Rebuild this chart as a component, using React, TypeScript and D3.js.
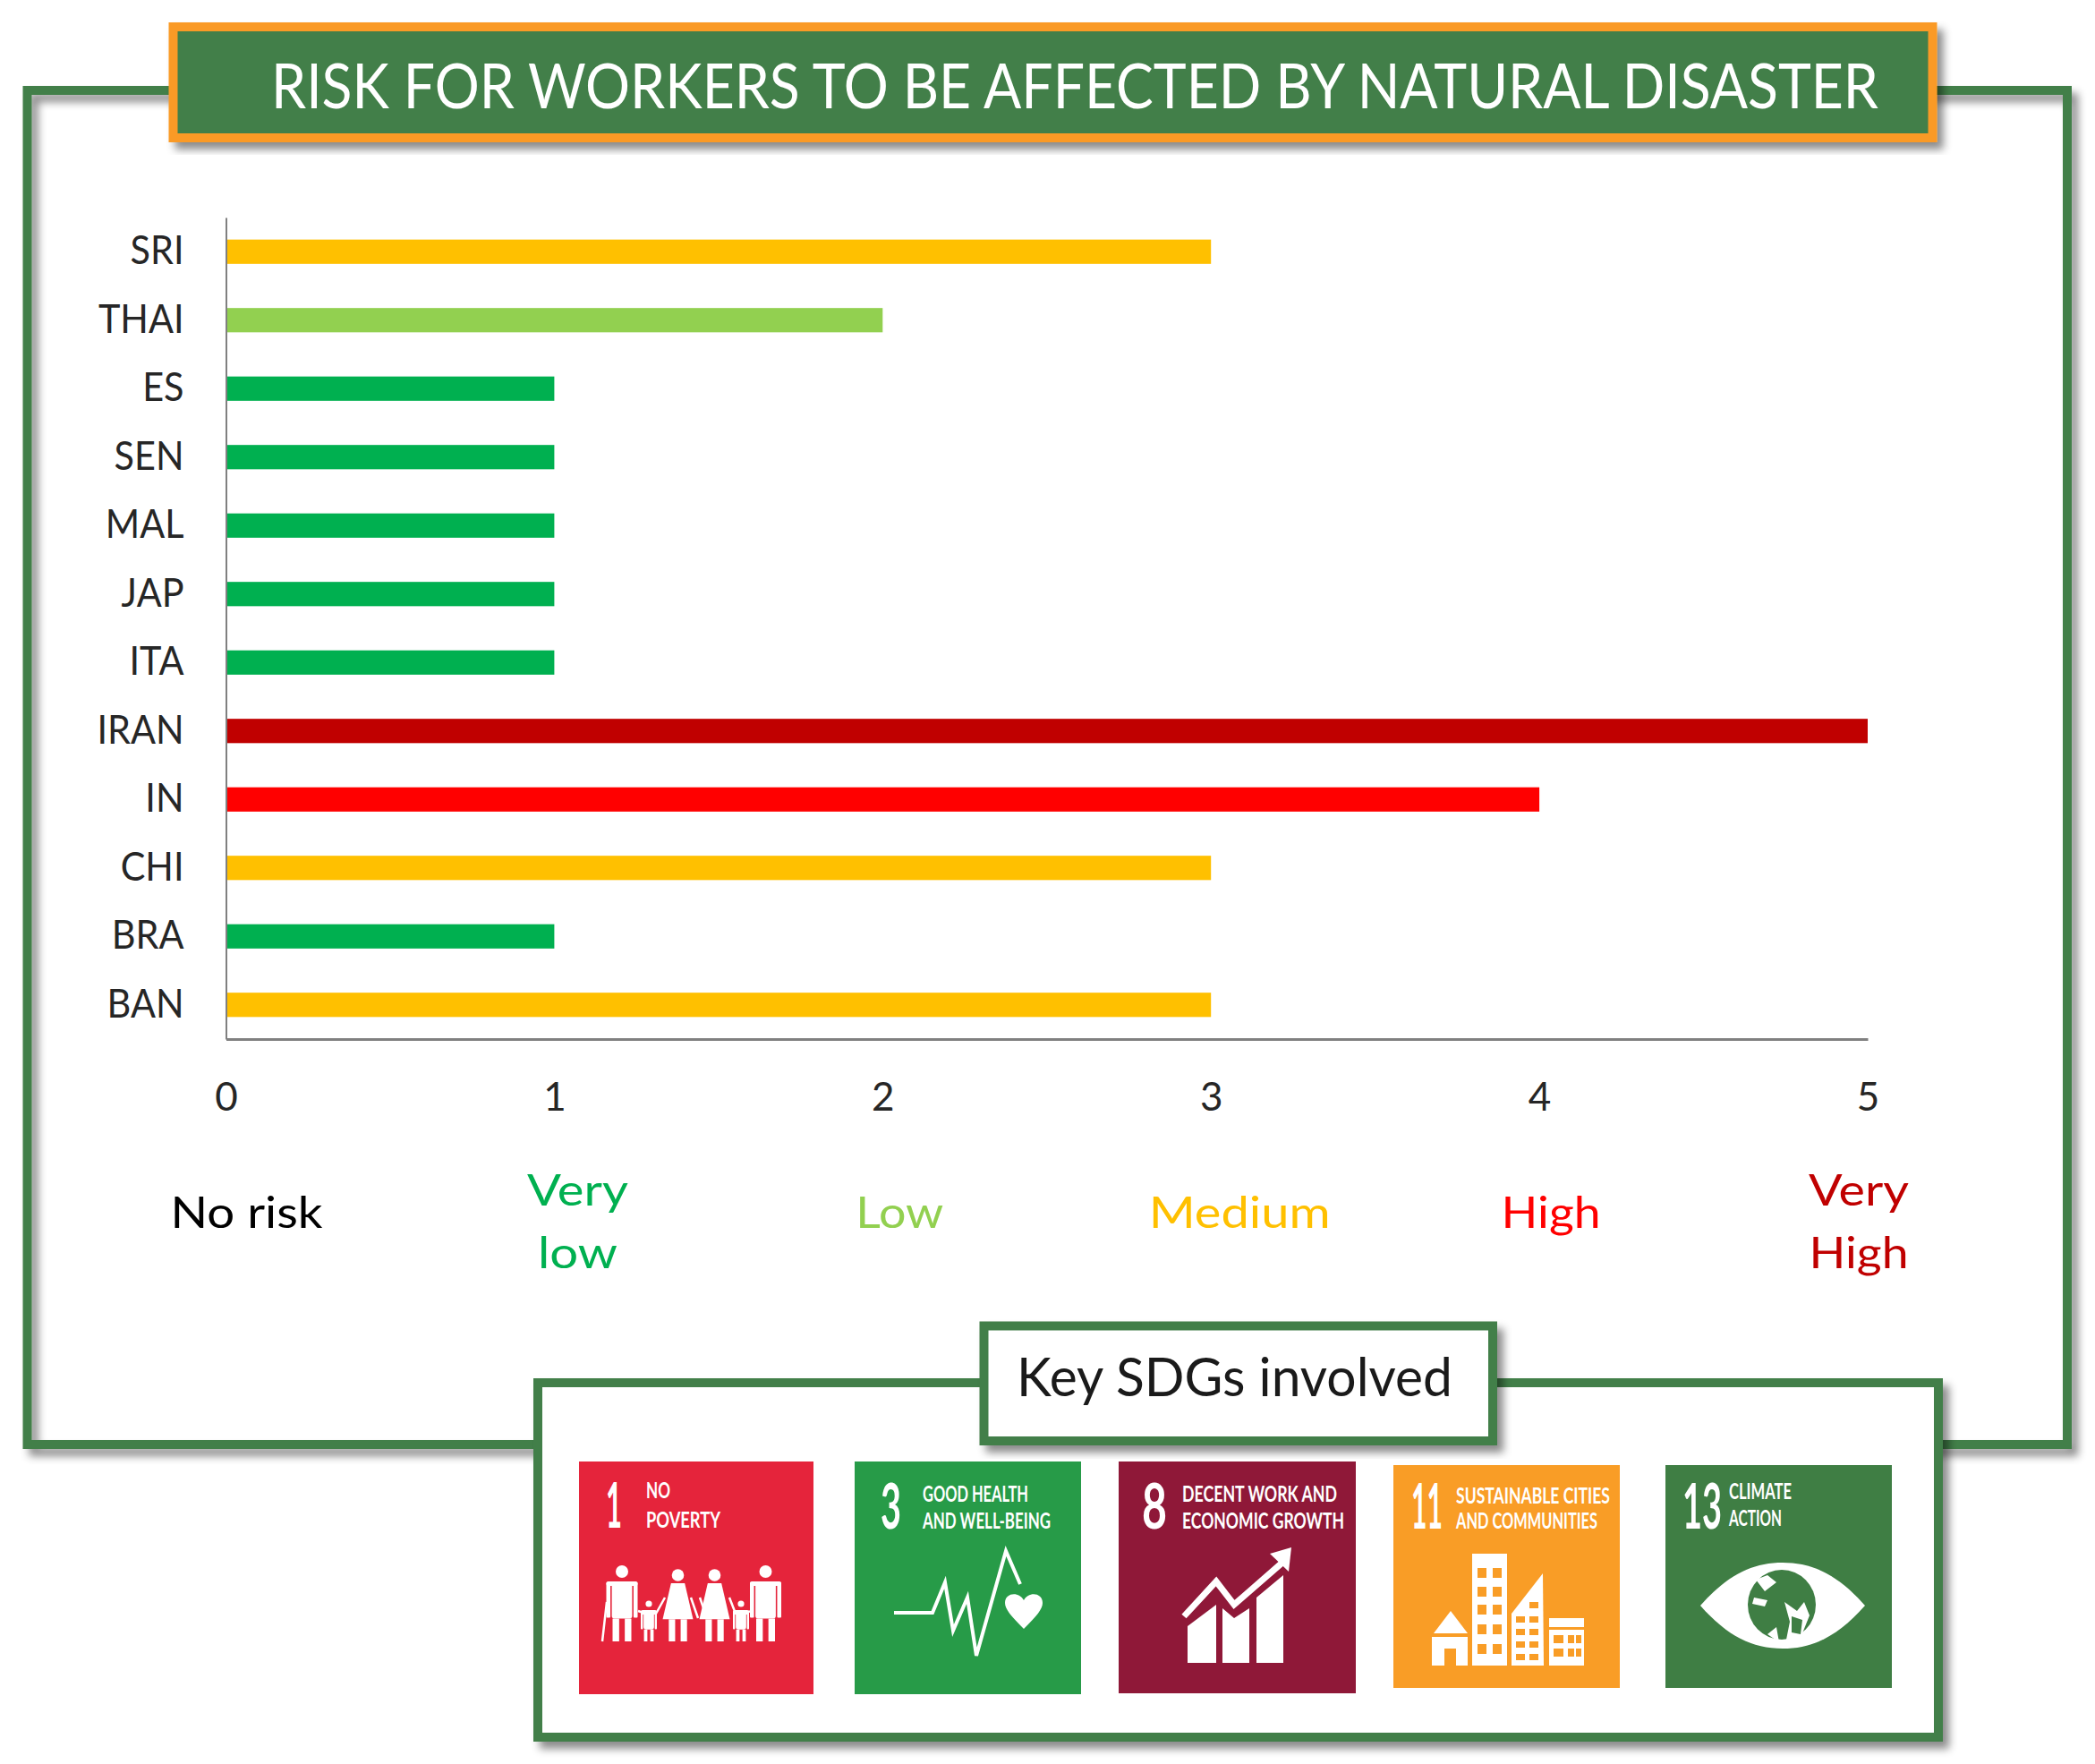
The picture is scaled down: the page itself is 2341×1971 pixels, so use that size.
import React, { useEffect, useRef } from 'react';
import * as d3 from 'd3';

const categories = ['SRI', 'THAI', 'ES', 'SEN', 'MAL', 'JAP', 'ITA', 'IRAN', 'IN', 'CHI', 'BRA', 'BAN'];
const riskValues = [3, 2, 1, 1, 1, 1, 1, 5, 4, 3, 1, 3];
const riskTicks = [0, 1, 2, 3, 4, 5];
const riskColors = ['#000000', '#00b050', '#92d050', '#ffc000', '#ff0000', '#c00000'];
const riskLines = [['No risk'], ['Very', 'low'], ['Low'], ['Medium'], ['High'], ['Very', 'High']];
const title = 'RISK FOR WORKERS TO BE AFFECTED BY NATURAL DISASTER';
const sdgTitle = 'Key SDGs involved';
const sdgNumbers = ['1', '3', '8', '11', '13'];
const sdgNames = [
  ['NO', 'POVERTY'],
  ['GOOD HEALTH', 'AND WELL-BEING'],
  ['DECENT WORK AND', 'ECONOMIC GROWTH'],
  ['SUSTAINABLE CITIES', 'AND COMMUNITIES'],
  ['CLIMATE', 'ACTION'],
];
const sdgColors = ['#e5243b', '#279b48', '#8f1838', '#f99d26', '#3f7e44'];

// layout
const WIDTH = 2341;
const HEIGHT = 1971;
const GREEN = '#427f48';
const FONT = 'Lato, sans-serif';
const x = d3.scaleLinear().domain([0, 5]).range([252.5, 2087]);
const y = d3.scaleBand().domain(categories).range([243, 1161]).paddingInner(0.645).paddingOuter(0.3225);

const labelOffset = [23, 26, 19, 32, 13, -10];
const labelWidths = [[170], [113, 89], [98], [203], [111], [112, 111]];

const tiles = [
  { x0: 647, x1: 909, y0: 1633, y1: 1893, numX: 677, numW: 18, nameX: 722, nameW: [27, 83], base: [1674, 1707], numBase: 1707 },
  { x0: 955, x1: 1208, y0: 1633, y1: 1893, numX: 984, numW: 23, nameX: 1031, nameW: [118, 143], base: [1678, 1708], numBase: 1708 },
  { x0: 1250, x1: 1515, y0: 1633, y1: 1892, numX: 1276, numW: 28, nameX: 1321, nameW: [173, 181], base: [1678, 1708], numBase: 1708 },
  { x0: 1557, x1: 1810, y0: 1637, y1: 1886, numX: 1577, numW: 35, nameX: 1627, nameW: [172, 158], base: [1680, 1708], numBase: 1708 },
  { x0: 1861, x1: 2114, y0: 1637, y1: 1886, numX: 1880, numW: 44, nameX: 1932, nameW: [70, 59], base: [1675, 1705], numBase: 1708 },
];

function Fit({ tx, ty, w, size, fill, anchor = 'start', weight = 400, children }: any) {
  return (
    <text x={tx} y={ty} textLength={w} lengthAdjust="spacingAndGlyphs" fontSize={size} fill={fill}
      textAnchor={anchor} fontWeight={weight} fontFamily={FONT}>{children}</text>
  );
}

function Person({ cx, headY, top, bottom, half, dress }: any) {
  const w = '#fff';
  const waist = top + (bottom - top) * 0.62;
  const legW = half * 0.42;
  return (
    <g fill={w}>
      <circle cx={cx} cy={headY} r={half * 0.4} />
      {dress
        ? <path d={`M${cx - half * 0.45},${top} L${cx + half * 0.45},${top} L${cx + half},${waist} L${cx - half},${waist} Z`} />
        : <rect x={cx - half * 0.65} y={top} width={half * 1.3} height={waist - top} rx={3} />}
      <rect x={cx - half * 0.6} y={waist} width={legW} height={bottom - waist} />
      <rect x={cx + half * 0.6 - legW} y={waist} width={legW} height={bottom - waist} />
      {!dress && <rect x={cx - half} y={top + 1} width={half * 0.26} height={(waist - top) * 0.95} rx={1} />}
      {!dress && <rect x={cx + half * 0.74} y={top + 1} width={half * 0.26} height={(waist - top) * 0.95} rx={1} />}
      {!dress && <rect x={cx - half} y={top} width={half * 2} height={5} rx={2} />}
    </g>
  );
}

function Family() {
  return (
    <g>
      <Person cx={695} headY={1756} top={1767} bottom={1834} half={17.5} />
      <Person cx={725} headY={1792} top={1799} bottom={1834} half={9} />
      <Person cx={757.5} headY={1760} top={1769} bottom={1834} half={17} dress />
      <Person cx={798.5} headY={1760} top={1769} bottom={1834} half={17} dress />
      <Person cx={828} headY={1792} top={1799} bottom={1834} half={9} />
      <Person cx={855.5} headY={1756} top={1767} bottom={1834} half={17.5} />
      <path d="M713,1800 L722,1803 M733,1803 L743,1785 M772,1785 L780,1808 M790,1808 L782,1785 M815,1785 L822,1803 M834,1803 L838,1800 M678,1790 L673,1834"
        stroke="#fff" strokeWidth={2.5} fill="none" />
    </g>
  );
}

function Pulse() {
  const line = d3.line()([[999, 1802], [1042, 1802], [1056, 1768], [1065, 1822], [1081, 1785], [1091, 1850], [1124, 1733], [1140, 1770]]);
  return (
    <g>
      <path d={line as string} fill="none" stroke="#fff" strokeWidth={4} />
      <path d="M1144,1820 C1130,1806 1123,1798 1123,1791 C1123,1779 1139,1778 1144,1788 C1149,1778 1165,1779 1165,1791 C1165,1798 1158,1806 1144,1820 Z" fill="#fff" />
    </g>
  );
}

function Growth() {
  const arrow = d3.line()([[1323, 1806], [1359, 1767], [1379, 1793], [1434, 1745]]);
  return (
    <g fill="#fff">
      <path d="M1327,1817 L1359,1793 L1359,1858 L1327,1858 Z" />
      <path d="M1366,1797 L1379,1808 L1396,1797 L1396,1858 L1366,1858 Z" />
      <path d="M1404,1785 L1434,1760 L1434,1858 L1404,1858 Z" />
      <path d={arrow as string} fill="none" stroke="#fff" strokeWidth={7} />
      <path d="M1443,1729 L1419,1736 L1440,1756 Z" />
    </g>
  );
}

function City() {
  const orange = sdgColors[3];
  const towerRows = [1752, 1773, 1793, 1815, 1837];
  const slantRows = [1790, 1806, 1820, 1834, 1848];
  return (
    <g fill="#fff">
      <path d="M1621,1800 L1602,1825 L1640,1825 Z" />
      <rect x={1600} y={1829} width={40} height={32} />
      <rect x={1614} y={1842} width={13} height={19} fill={orange} />
      <rect x={1645} y={1736} width={39} height={125} />
      {towerRows.map(r => (
        <g key={r} fill={orange}>
          <rect x={1651} y={r} width={10} height={11} />
          <rect x={1668} y={r} width={10} height={11} />
        </g>
      ))}
      <path d="M1689,1803 L1724,1758 L1725,1861 L1689,1861 Z" />
      {slantRows.map(r => (
        <g key={r} fill={orange}>
          {r > 1800 && <rect x={1694} y={r} width={10} height={7} />}
          <rect x={1709} y={r} width={10} height={7} />
        </g>
      ))}
      <rect x={1731} y={1808} width={39} height={53} />
      <rect x={1731} y={1818} width={39} height={3} fill={orange} />
      {[1827, 1842].map(r => (
        <g key={r} fill={orange}>
          <rect x={1736} y={r} width={11} height={9} />
          <rect x={1752} y={r} width={7} height={9} />
          <rect x={1761} y={r} width={6} height={9} />
        </g>
      ))}
    </g>
  );
}

function Eye() {
  const g = sdgColors[4];
  return (
    <g>
      <path d="M1900,1794 C1930,1760 1958,1746 1992,1746 C2026,1746 2054,1760 2084,1794 C2054,1828 2026,1842 1992,1842 C1958,1842 1930,1828 1900,1794 Z" fill="#fff" />
      <ellipse cx={1991} cy={1793} rx={38} ry={39} fill={g} />
      <path d="M1962,1765 L1975,1760 L1985,1768 L1972,1778 Z M1960,1785 L1975,1788 L1972,1795 L1958,1792 Z M1994,1790 L2008,1800 L2016,1790 L2022,1805 L2012,1830 L1996,1832 L2000,1812 Z M1975,1826 L1985,1818 L1988,1835 Z"
        fill="#fff" />
      <path d="M2002,1806 L2014,1810 L2012,1826 L2002,1824 Z" fill={g} />
    </g>
  );
}

const icons = [Family, Pulse, Growth, City, Eye];

export default function App() {
  const yAxisRef = useRef<SVGGElement>(null);
  const xAxisRef = useRef<SVGGElement>(null);

  useEffect(() => {
    // d3 axes, category labels narrowed a little to the look of the picture
    const squeeze = function (this: any) {
      const len = this.getComputedTextLength();
      d3.select(this).attr('textLength', len * 0.94).attr('lengthAdjust', 'spacingAndGlyphs');
    };

    const yAxis = d3.select(yAxisRef.current as SVGGElement)
      .call(d3.axisLeft(y).tickSize(0).tickPadding(47));
    yAxis.select('.domain').attr('stroke', '#808080').attr('stroke-width', 2);
    yAxis.selectAll('text')
      .attr('font-family', FONT).attr('font-size', 44).attr('fill', '#262626').each(squeeze);

    const xAxis = d3.select(xAxisRef.current as SVGGElement)
      .call(d3.axisBottom(x).tickValues(riskTicks).tickSize(0).tickPadding(49).tickFormat(d3.format('d')));
    xAxis.select('.domain').attr('stroke', '#808080').attr('stroke-width', 3);
    xAxis.selectAll('text')
      .attr('font-family', FONT).attr('font-size', 44).attr('fill', '#262626');
  }, []);

  return (
    <svg width={WIDTH} height={HEIGHT} viewBox={`0 0 ${WIDTH} ${HEIGHT}`}
      style={{ position: 'absolute', left: 0, top: 0, display: 'block', background: '#fff' }}>
      <defs>
        <filter id="shadow" x="-5%" y="-10%" width="110%" height="125%">
          <feDropShadow dx={7} dy={8} stdDeviation={5} floodColor="#000" floodOpacity={0.45} />
        </filter>
      </defs>

      {/* outer frame */}
      <rect x={30.5} y={101} width={2279.5} height={1513} fill="none" stroke={GREEN} strokeWidth={10} filter="url(#shadow)" />

      {/* title */}
      <rect x={193.5} y={30} width={1966} height={124} fill={GREEN} stroke="#fa9a26" strokeWidth={10} filter="url(#shadow)" />
      <Fit tx={303} ty={121} w={1796} size={70} fill="#fff">{title}</Fit>

      {/* bars */}
      {categories.map((c, i) => (
        <rect key={c} x={x(0)} y={y(c)} width={x(riskValues[i]) - x(0)} height={y.bandwidth()} fill={riskColors[riskValues[i]]} />
      ))}
      <g ref={yAxisRef} transform={`translate(${x(0)},0)`} />
      <g ref={xAxisRef} transform={`translate(0,${y.range()[1]})`} />

      {/* risk scale names under the ticks */}
      {riskLines.map((lines, i) => lines.map((l, j) => (
        <Fit key={l + i} tx={x(riskTicks[i]) + labelOffset[i]} w={labelWidths[i][j]} size={48} anchor="middle" fill={riskColors[i]}
          ty={lines.length === 1 ? 1372 : 1347 + j * 70}>{l}</Fit>
      )))}

      {/* SDG panel */}
      <rect x={601} y={1545} width={1565} height={396} fill="#fff" stroke={GREEN} strokeWidth={10} filter="url(#shadow)" />
      <rect x={1099.5} y={1481.5} width={568.5} height={128.5} fill="#fff" stroke={GREEN} strokeWidth={10} filter="url(#shadow)" />
      <Fit tx={1136} ty={1560} w={487} size={60} fill="#1a1a1a">{sdgTitle}</Fit>

      {tiles.map((t, i) => {
        const Icon = icons[i];
        return (
          <g key={sdgNumbers[i]}>
            <rect x={t.x0} y={t.y0} width={t.x1 - t.x0} height={t.y1 - t.y0} fill={sdgColors[i]} />
            <Fit tx={t.numX} ty={t.numBase} w={t.numW} size={70} fill="#fff" weight={700}>{sdgNumbers[i]}</Fit>
            {sdgNames[i].map((n, j) => (
              <Fit key={n} tx={t.nameX} ty={t.base[j]} w={t.nameW[j]} size={25} fill="#fff" weight={700}>{n}</Fit>
            ))}
            <Icon />
          </g>
        );
      })}
    </svg>
  );
}
